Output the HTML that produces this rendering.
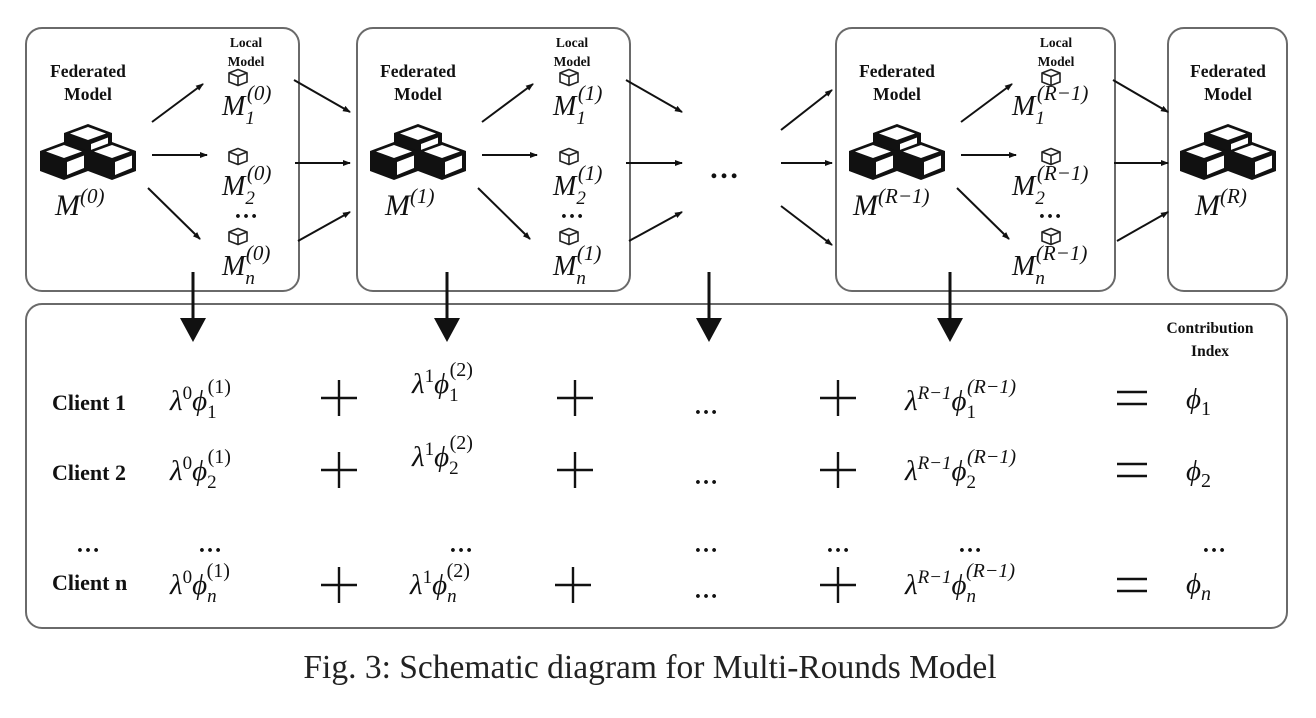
<!DOCTYPE html>
<html><head><meta charset="utf-8"><style>
html,body{margin:0;padding:0;background:#fff;}
svg{display:block}
.b{font-family:"Liberation Serif",serif;font-weight:bold;fill:#111}
.m{font-family:"Liberation Serif",serif;font-style:italic;fill:#111}
</style></head><body>
<svg width="1316" height="718" viewBox="0 0 1316 718" xmlns="http://www.w3.org/2000/svg">
<defs>
<marker id="ah" markerWidth="8" markerHeight="8" refX="7" refY="4" orient="auto" markerUnits="userSpaceOnUse">
<path d="M0,1 L8,4 L0,7 Z" fill="#111"/></marker>
<g id="cube">
<path d="M0,0 L24,9 L24,29 L0,38 L-24,29 L-24,9 Z" fill="#111"/>
<path d="M0,3 L18,9.5 L0,16 L-18,9.5 Z" fill="#fff"/>
<path d="M3,20 L20,13.5 L20,26 L3,33 Z" fill="#fff"/>
</g>
<g id="stack">
<use href="#cube" x="0" y="0"/>
<use href="#cube" x="-24" y="18"/>
<use href="#cube" x="24" y="18"/>
</g>
<g id="sc" fill="none" stroke="#222" stroke-width="1.6">
<path d="M0,0 L9,-3.5 L18,0 L18,9 L9,12.5 L0,9 Z M0,0 L9,3.5 L18,0 M9,3.5 L9,12.5"/>
</g>
</defs>
<g fill="none" stroke="#6a6a6a" stroke-width="2">
<rect x="26" y="28" width="273" height="263" rx="16"/>
<rect x="357" y="28" width="273" height="263" rx="16"/>
<rect x="836" y="28" width="279" height="263" rx="16"/>
<rect x="1168" y="28" width="119" height="263" rx="16"/>
<rect x="26" y="304" width="1261" height="324" rx="16"/>
</g>
<use href="#stack" x="88" y="124"/>
<use href="#stack" x="418" y="124"/>
<use href="#stack" x="897" y="124"/>
<use href="#stack" x="1228" y="124"/>
<g class="b" font-size="17.5" text-anchor="middle">
<text x="88" y="77">Federated</text><text x="88" y="100">Model</text>
<text x="418" y="77">Federated</text><text x="418" y="100">Model</text>
<text x="897" y="77">Federated</text><text x="897" y="100">Model</text>
<text x="1228" y="77">Federated</text><text x="1228" y="100">Model</text>
</g>
<g class="b" font-size="13.5" text-anchor="middle">
<text x="246" y="47">Local</text><text x="246" y="66">Model</text>
<text x="572" y="47">Local</text><text x="572" y="66">Model</text>
<text x="1056" y="47">Local</text><text x="1056" y="66">Model</text>
<text x="1210" y="333" font-size="15.5">Contribution</text><text x="1210" y="356" font-size="15.5">Index</text>
</g>
<use href="#sc" x="229" y="73"/><use href="#sc" x="229" y="152"/><use href="#sc" x="229" y="232"/>
<use href="#sc" x="560" y="73"/><use href="#sc" x="560" y="152"/><use href="#sc" x="560" y="232"/>
<use href="#sc" x="1042" y="73"/><use href="#sc" x="1042" y="152"/><use href="#sc" x="1042" y="232"/>
<g class="m" font-size="30">
<text x="55" y="215">M<tspan font-size="21" dy="-12">(0)</tspan></text>
<text x="385" y="215">M<tspan font-size="21" dy="-12">(1)</tspan></text>
<text x="853" y="215">M<tspan font-size="21" dy="-12">(R−1)</tspan></text>
<text x="1195" y="215">M<tspan font-size="21" dy="-12">(R)</tspan></text>
</g>
<g class="m" font-size="28">
<text x="222" y="115">M<tspan font-size="19" dy="9">1</tspan><tspan font-size="21" dx="-8" dy="-24">(0)</tspan></text>
<text x="222" y="195">M<tspan font-size="19" dy="9">2</tspan><tspan font-size="21" dx="-8" dy="-24">(0)</tspan></text>
<text x="222" y="275">M<tspan font-size="19" dy="9">n</tspan><tspan font-size="21" dx="-9" dy="-24">(0)</tspan></text>
<text x="553" y="115">M<tspan font-size="19" dy="9">1</tspan><tspan font-size="21" dx="-8" dy="-24">(1)</tspan></text>
<text x="553" y="195">M<tspan font-size="19" dy="9">2</tspan><tspan font-size="21" dx="-8" dy="-24">(1)</tspan></text>
<text x="553" y="275">M<tspan font-size="19" dy="9">n</tspan><tspan font-size="21" dx="-9" dy="-24">(1)</tspan></text>
<text x="1012" y="115">M<tspan font-size="19" dy="9">1</tspan><tspan font-size="21" dx="-8" dy="-24">(R−1)</tspan></text>
<text x="1012" y="195">M<tspan font-size="19" dy="9">2</tspan><tspan font-size="21" dx="-8" dy="-24">(R−1)</tspan></text>
<text x="1012" y="275">M<tspan font-size="19" dy="9">n</tspan><tspan font-size="21" dx="-9" dy="-24">(R−1)</tspan></text>
</g>
<g class="b" font-size="24" text-anchor="middle">
<text x="246" y="218">…</text><text x="572" y="218">…</text><text x="1050" y="218">…</text>
<text x="724" y="178" font-size="30">…</text>
</g>
<g stroke="#111" stroke-width="2" marker-end="url(#ah)">
<line x1="152" y1="122" x2="203" y2="84"/><line x1="152" y1="155" x2="207" y2="155"/><line x1="148" y1="188" x2="200" y2="239"/>
<line x1="294" y1="80" x2="350" y2="112"/><line x1="295" y1="163" x2="350" y2="163"/><line x1="298" y1="241" x2="350" y2="212"/>
<line x1="482" y1="122" x2="533" y2="84"/><line x1="482" y1="155" x2="537" y2="155"/><line x1="478" y1="188" x2="530" y2="239"/>
<line x1="626" y1="80" x2="682" y2="112"/><line x1="626" y1="163" x2="682" y2="163"/><line x1="629" y1="241" x2="682" y2="212"/>
<line x1="781" y1="130" x2="832" y2="90"/><line x1="781" y1="163" x2="832" y2="163"/><line x1="781" y1="206" x2="832" y2="245"/>
<line x1="961" y1="122" x2="1012" y2="84"/><line x1="961" y1="155" x2="1016" y2="155"/><line x1="957" y1="188" x2="1009" y2="239"/>
<line x1="1113" y1="80" x2="1168" y2="112"/><line x1="1114" y1="163" x2="1168" y2="163"/><line x1="1117" y1="241" x2="1168" y2="212"/>
</g>
<g stroke="#111" stroke-width="3">
<line x1="193" y1="272" x2="193" y2="320"/><line x1="447" y1="272" x2="447" y2="320"/><line x1="709" y1="272" x2="709" y2="320"/><line x1="950" y1="272" x2="950" y2="320"/>
</g>
<g fill="#111">
<path d="M180,318 L206,318 L193,342 Z"/><path d="M434,318 L460,318 L447,342 Z"/><path d="M696,318 L722,318 L709,342 Z"/><path d="M937,318 L963,318 L950,342 Z"/>
</g>
<g class="b" font-size="22">
<text x="52" y="410">Client 1</text><text x="52" y="480">Client 2</text><text x="52" y="590">Client n</text>
</g>
<g class="b" font-size="24" text-anchor="middle">
<text x="88" y="552">…</text><text x="210" y="552">…</text><text x="461" y="552">…</text><text x="706" y="552">…</text><text x="838" y="552">…</text><text x="970" y="552">…</text><text x="1214" y="552">…</text>
<text x="706" y="414">…</text><text x="706" y="484">…</text><text x="706" y="598">…</text>
</g>
<g stroke="#111" stroke-width="2.4">
<path d="M321,398 H357 M339,380 V416"/><path d="M321,470 H357 M339,452 V488"/><path d="M321,585 H357 M339,567 V603"/>
<path d="M557,398 H593 M575,380 V416"/><path d="M557,470 H593 M575,452 V488"/><path d="M555,585 H591 M573,567 V603"/>
<path d="M820,398 H856 M838,380 V416"/><path d="M820,470 H856 M838,452 V488"/><path d="M820,585 H856 M838,567 V603"/>
<path d="M1117,392 H1147 M1117,404 H1147"/><path d="M1117,464 H1147 M1117,476 H1147"/><path d="M1117,579 H1147 M1117,591 H1147"/>
</g>
<g class="m" font-size="29">
<text x="170" y="410">λ<tspan font-size="19" font-style="normal" dy="-11">0</tspan><tspan dy="11">ϕ</tspan><tspan font-size="19" font-style="normal" dy="8">1</tspan><tspan font-size="20" font-style="normal" dx="-9" dy="-25">(1)</tspan></text>
<text x="170" y="480">λ<tspan font-size="19" font-style="normal" dy="-11">0</tspan><tspan dy="11">ϕ</tspan><tspan font-size="19" font-style="normal" dy="8">2</tspan><tspan font-size="20" font-style="normal" dx="-9" dy="-25">(1)</tspan></text>
<text x="170" y="594">λ<tspan font-size="19" font-style="normal" dy="-11">0</tspan><tspan dy="11">ϕ</tspan><tspan font-size="19" dy="8">n</tspan><tspan font-size="20" font-style="normal" dx="-10" dy="-25">(1)</tspan></text>
<text x="412" y="393">λ<tspan font-size="19" font-style="normal" dy="-11">1</tspan><tspan dy="11">ϕ</tspan><tspan font-size="19" font-style="normal" dy="8">1</tspan><tspan font-size="20" font-style="normal" dx="-9" dy="-25">(2)</tspan></text>
<text x="412" y="466">λ<tspan font-size="19" font-style="normal" dy="-11">1</tspan><tspan dy="11">ϕ</tspan><tspan font-size="19" font-style="normal" dy="8">2</tspan><tspan font-size="20" font-style="normal" dx="-9" dy="-25">(2)</tspan></text>
<text x="410" y="594">λ<tspan font-size="19" font-style="normal" dy="-11">1</tspan><tspan dy="11">ϕ</tspan><tspan font-size="19" dy="8">n</tspan><tspan font-size="20" font-style="normal" dx="-10" dy="-25">(2)</tspan></text>
<text x="905" y="410">λ<tspan font-size="19" dy="-11">R−1</tspan><tspan dy="11">ϕ</tspan><tspan font-size="19" font-style="normal" dy="8">1</tspan><tspan font-size="20" dx="-9" dy="-25">(R−1)</tspan></text>
<text x="905" y="480">λ<tspan font-size="19" dy="-11">R−1</tspan><tspan dy="11">ϕ</tspan><tspan font-size="19" font-style="normal" dy="8">2</tspan><tspan font-size="20" dx="-9" dy="-25">(R−1)</tspan></text>
<text x="905" y="594">λ<tspan font-size="19" dy="-11">R−1</tspan><tspan dy="11">ϕ</tspan><tspan font-size="19" dy="8">n</tspan><tspan font-size="20" dx="-10" dy="-25">(R−1)</tspan></text>
<text x="1186" y="408">ϕ<tspan font-size="20" font-style="normal" dy="7">1</tspan></text>
<text x="1186" y="480">ϕ<tspan font-size="20" font-style="normal" dy="7">2</tspan></text>
<text x="1186" y="593">ϕ<tspan font-size="20" dy="7">n</tspan></text>
</g>
<text x="650" y="678" text-anchor="middle" font-family="Liberation Serif, serif" font-size="33.5" fill="#222">Fig. 3: Schematic diagram for Multi-Rounds Model</text>
</svg>
</body></html>
